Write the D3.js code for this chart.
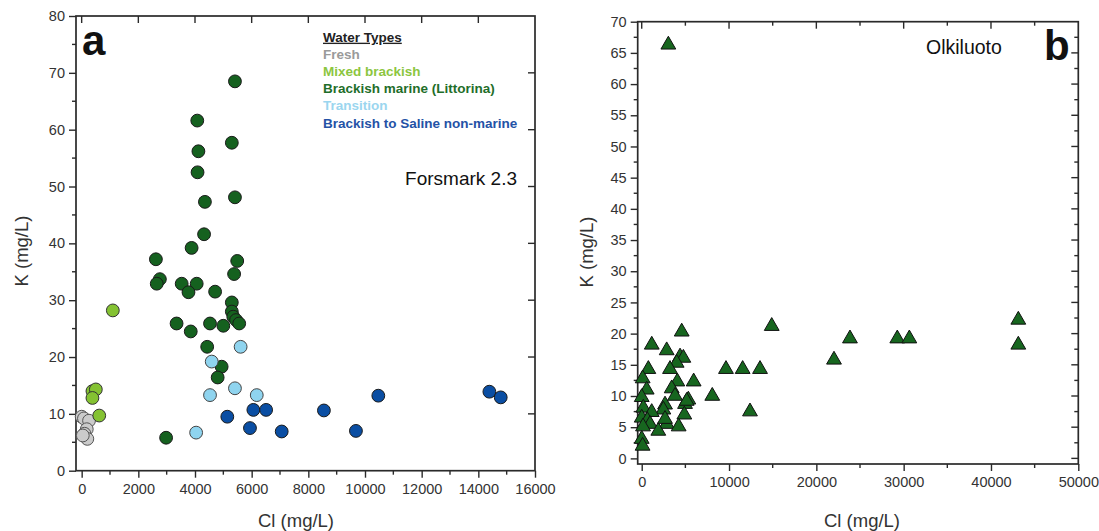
<!DOCTYPE html>
<html><head><meta charset="utf-8">
<script src="https://cdn.jsdelivr.net/npm/d3@7"></script>
<style>
body{margin:0;background:#fff;}
svg{display:block;font-family:"Liberation Sans",Arial,sans-serif;}
</style></head>
<body>
<svg id="c" width="1099" height="531"></svg>
<script>
// ---------- Panel a data (Forsmark 2.3) ----------
const freshCl = [0, 80, 260, 180, 100, 200, 40];
const freshK  = [9.5, 9.2, 8.8, 7.3, 6.5, 5.6, 6.2];
const mixedCl = [1100, 380, 500, 380, 620];
const mixedK  = [28.2, 14.0, 14.3, 12.8, 9.7];
const marineCl = [5410, 4080, 5300, 4120, 4090, 4350, 5410, 4320, 3880, 2620, 5490, 5380, 2760, 2650, 3530, 4060, 3770, 4710, 5300, 5300, 5350, 5450, 5560, 3350, 4530, 5000, 3850, 4430, 4940, 4800, 2980];
const marineK  = [68.5, 61.6, 57.7, 56.2, 52.5, 47.3, 48.1, 41.6, 39.2, 37.2, 36.9, 34.6, 33.7, 32.9, 32.9, 32.9, 31.4, 31.5, 29.6, 28.0, 27.1, 26.5, 25.9, 25.9, 25.9, 25.5, 24.5, 21.8, 18.3, 16.4, 5.8];
const transCl = [5610, 4590, 5410, 4530, 6180, 4040];
const transK  = [21.8, 19.2, 14.5, 13.3, 13.3, 6.7];
const salineCl = [5140, 6060, 6510, 5940, 7060, 8550, 9680, 10470, 14390, 14790];
const salineK  = [9.5, 10.7, 10.7, 7.5, 6.9, 10.6, 7.0, 13.2, 13.9, 12.9];

const legendLabels = ["Fresh", "Mixed brackish", "Brackish marine (Littorina)", "Transition", "Brackish to Saline non-marine"];
const legendColors = ["#9a9a9a", "#8cc63f", "#1f6e2a", "#9bd6ef", "#2452a6"];

// ---------- Panel b data (Olkiluoto) ----------
const olkCl = [3050, 4580, 1150, 2860, 4390, 4770, 4000, 760, 3240, 9650, 11560, 13550, 14890, 110, 5950, 4080, 570, 3435, 0, 8080, 3815, 5340, 4960, 2670, 185, 2480, 1145, 12400, 4880, 0, 640, 2860, 950, 4230, 150, 1900, 0, 100, 22020, 23850, 29270, 30650, 43130, 43130, 2670, 5150];
const olkK  = [66.3, 20.3, 18.2, 17.3, 16.3, 16.1, 15.3, 14.3, 14.3, 14.3, 14.3, 14.3, 21.2, 12.8, 12.3, 12.3, 11.0, 11.2, 9.8, 10.0, 10.0, 9.4, 8.7, 8.6, 8.1, 7.8, 7.4, 7.5, 7.0, 6.5, 6.1, 5.5, 5.5, 5.1, 5.1, 4.4, 3.1, 2.0, 15.8, 19.2, 19.2, 19.2, 22.2, 18.2, 6.3, 9.2];

const aXTicks = [0, 2000, 4000, 6000, 8000, 10000, 12000, 14000, 16000];
const aYTicks = [0, 10, 20, 30, 40, 50, 60, 70, 80];
const bXTicks = [0, 10000, 20000, 30000, 40000, 50000];
const bYTicks = [0, 5, 10, 15, 20, 25, 30, 35, 40, 45, 50, 55, 60, 65, 70];

const svg = d3.select("#c");
const axisColor = "#2a2a2a";
const font = '"Liberation Sans",Arial,sans-serif';

function frame(g, x, y, opts) {
  const [x0, x1] = x.range(), [y0, y1] = y.range(); // y0 bottom, y1 top
  const bottom = g.append("g").attr("transform", `translate(0,${y0})`)
    .call(d3.axisBottom(x).tickValues(opts.xTicks).tickSize(7).tickSizeOuter(0).tickPadding(6).tickFormat(d3.format("d")));
  const left = g.append("g").attr("transform", `translate(${x0},0)`)
    .call(d3.axisLeft(y).tickValues(opts.yTicks).tickSize(7).tickSizeOuter(0).tickPadding(4).tickFormat(d3.format("d")));
  [bottom, left].forEach(a => {
    a.select(".domain").remove();
    a.selectAll("line").attr("stroke", axisColor).attr("stroke-width", 1.4);
    a.selectAll("text").attr("fill", "#333").style("font-size", "14.5px").style("font-family", font);
  });
  g.append("g").selectAll("line").data(opts.xMinor).join("line")
    .attr("x1", d => x(d)).attr("x2", d => x(d)).attr("y1", y0).attr("y2", y0 + 4)
    .attr("stroke", axisColor).attr("stroke-width", 1.4);
  g.append("g").selectAll("line").data(opts.yMinor).join("line")
    .attr("y1", d => y(d)).attr("y2", d => y(d)).attr("x1", x0).attr("x2", x0 - 4)
    .attr("stroke", axisColor).attr("stroke-width", 1.4);
  g.append("g").selectAll("line").data(opts.topTicks).join("line")
    .attr("x1", d => x(d[0])).attr("x2", d => x(d[0])).attr("y1", y1).attr("y2", d => y1 + d[1])
    .attr("stroke", axisColor).attr("stroke-width", 1.4);
  g.append("g").selectAll("line").data(opts.rightTicks).join("line")
    .attr("y1", d => y(d[0])).attr("y2", d => y(d[0])).attr("x1", x1).attr("x2", d => x1 - d[1])
    .attr("stroke", axisColor).attr("stroke-width", 1.4);
  g.append("rect").attr("x", x0).attr("y", y1).attr("width", x1 - x0).attr("height", y0 - y1)
    .attr("fill", "none").attr("stroke", axisColor).attr("stroke-width", 1.7);
}

// ---------- Panel a ----------
const ax = d3.scaleLinear().domain([-200, 16000]).range([76, 535]);
const ay = d3.scaleLinear().domain([0, 80]).range([470.7, 16]);
const ga = svg.append("g");
frame(ga, ax, ay, {
  xTicks: aXTicks, yTicks: aYTicks,
  xMinor: d3.range(1000, 16000, 2000),
  yMinor: d3.range(5, 80, 10),
  topTicks: aXTicks.slice(0, -1).map(d => [d, 7]),
  rightTicks: aYTicks.slice(1, -1).map(d => [d, 7])
});

const groupsA = [
  {cl: freshCl, k: freshK, fill: "#cbcbcb", stroke: "#555"},
  {cl: mixedCl, k: mixedK, fill: "#84c232", stroke: "#333"},
  {cl: marineCl, k: marineK, fill: "#15611f", stroke: "#1a1a1a"},
  {cl: transCl, k: transK, fill: "#8fd4ef", stroke: "#444"},
  {cl: salineCl, k: salineK, fill: "#0a4ea3", stroke: "#1a1a1a"}
];
groupsA.forEach(gr => {
  ga.append("g").selectAll("circle").data(gr.cl.map((c, i) => [c, gr.k[i]])).join("circle")
    .attr("cx", d => ax(d[0])).attr("cy", d => ay(d[1])).attr("r", 6.4)
    .attr("fill", gr.fill).attr("stroke", gr.stroke).attr("stroke-width", 1);
});

// legend
const lg = ga.append("g").style("font-family", font).style("font-weight", "bold").style("font-size", "13.5px");
lg.append("text").attr("x", 323).attr("y", 41.7).attr("fill", "#222").attr("text-decoration", "underline").text("Water Types");
lg.selectAll("text.it").data(legendLabels).join("text").attr("class", "it")
  .attr("x", 323).attr("y", (d, i) => 58.8 + i * 17.2).attr("fill", (d, i) => legendColors[i]).text(d => d);

ga.append("text").attr("x", 517).attr("y", 185).attr("text-anchor", "end")
  .style("font-family", font).style("font-size", "19px").attr("fill", "#111").text("Forsmark 2.3");
ga.append("text").attr("x", 82).attr("y", 55).style("font-family", font).style("font-size", "42px")
  .style("font-weight", "bold").attr("fill", "#111").text("a");
ga.append("text").attr("transform", "translate(28,251) rotate(-90)").attr("text-anchor", "middle")
  .style("font-family", font).style("font-size", "18.5px").attr("fill", "#333").text("K (mg/L)");
ga.append("text").attr("x", 296).attr("y", 527).attr("text-anchor", "middle")
  .style("font-family", font).style("font-size", "18.5px").attr("fill", "#333").text("Cl (mg/L)");

// ---------- Panel b ----------
const bx = d3.scaleLinear().domain([-460, 50000]).range([637.7, 1078.3]);
const by = d3.scaleLinear().domain([-0.9, 70]).range([464, 21.7]);
const gb = svg.append("g");
frame(gb, bx, by, {
  xTicks: bXTicks, yTicks: bYTicks,
  xMinor: d3.range(5000, 50000, 10000),
  yMinor: d3.range(2.5, 70, 5),
  topTicks: d3.range(0, 50000, 5000).map(d => [d, d % 10000 === 0 ? 7 : 4]),
  rightTicks: d3.range(0, 70, 2.5).map(d => [d, d % 5 === 0 ? 7 : 4])
});
const tri = d3.symbol().type(d3.symbolTriangle).size(95);
gb.append("g").selectAll("path").data(olkCl.map((c, i) => [c, olkK[i]])).join("path")
  .attr("d", tri).attr("transform", d => `translate(${bx(d[0])},${by(d[1])})`)
  .attr("fill", "#17661f").attr("stroke", "#111").attr("stroke-width", 1);

gb.append("text").attr("x", 926).attr("y", 54).style("font-family", font).style("font-size", "19.5px")
  .attr("fill", "#111").text("Olkiluoto");
gb.append("text").attr("x", 1044).attr("y", 60).style("font-family", font).style("font-size", "42px")
  .style("font-weight", "bold").attr("fill", "#111").text("b");
gb.append("text").attr("transform", "translate(593,252) rotate(-90)").attr("text-anchor", "middle")
  .style("font-family", font).style("font-size", "18.5px").attr("fill", "#333").text("K (mg/L)");
gb.append("text").attr("x", 862).attr("y", 527).attr("text-anchor", "middle")
  .style("font-family", font).style("font-size", "18.5px").attr("fill", "#333").text("Cl (mg/L)");
</script>
</body></html>
